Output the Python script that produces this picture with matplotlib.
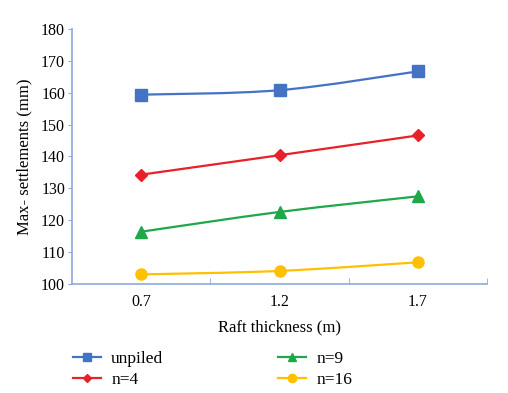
import matplotlib.pyplot as plt
import numpy as np
from matplotlib.path import Path
from matplotlib.patches import PathPatch

# data
thickness = ['0.7', '1.2', '1.7']
unpiled = [159.4, 160.8, 166.7]
n4 = [134.3, 140.4, 146.6]
n9 = [116.4, 122.6, 127.5]
n16 = [103.0, 104.1, 106.8]

plt.rcParams['font.family'] = ['Liberation Serif', 'DejaVu Serif']

fig = plt.figure(figsize=(5.08, 3.93), dpi=100)
ax = fig.add_axes([0.1417, 0.2774, 0.817, 0.6488])

x = np.arange(len(thickness))


def smooth_path(xs, ys):
    # excel-like smoothed line (catmull-rom as bezier segments)
    pts = list(zip(xs, ys))
    verts = [pts[0]]
    codes = [Path.MOVETO]
    t = 1 / 6
    for i in range(len(pts) - 1):
        p0 = pts[i - 1] if i > 0 else pts[i]
        p1 = pts[i]
        p2 = pts[i + 1]
        p3 = pts[i + 2] if i + 2 < len(pts) else pts[i + 1]
        c1 = (p1[0] + (p2[0] - p0[0]) * t, p1[1] + (p2[1] - p0[1]) * t)
        c2 = (p2[0] - (p3[0] - p1[0]) * t, p2[1] - (p3[1] - p1[1]) * t)
        verts += [c1, c2, p2]
        codes += [Path.CURVE4] * 3
    return Path(verts, codes)


series = [
    ('unpiled', unpiled, '#4472C4', 's', 8),
    ('n=4', n4, '#E8202A', 'D', 6),
    ('n=9', n9, '#1FA84A', '^', 8),
    ('n=16', n16, '#FFC000', 'o', 8),
]

for name, vals, col, mk, ms in series:
    ax.add_patch(PathPatch(smooth_path(x, vals), facecolor='none',
                           edgecolor=col, lw=1.6, zorder=2))
    ax.plot(x, vals, linestyle='none', marker=mk, markersize=ms,
            color=col, zorder=3)
    # proxy for legend
    ax.plot([], [], color=col, lw=1.6, marker=mk, markersize=ms * 0.75, label=name)

ax.set_xlim(-0.5, 2.5)
ax.set_ylim(100, 180)
ax.set_yticks(np.arange(100, 181, 10))
ax.set_xticks(x)
ax.set_xticklabels(thickness)
ax.set_xticks([0.5, 1.5, 2.5], minor=True)
ax.tick_params(axis='x', which='major', length=0, pad=7, labelsize=11.5)
ax.tick_params(axis='x', which='minor', direction='in', length=4, color='#8EA9DB')
ax.tick_params(axis='y', direction='out', length=3, color='#8EA9DB', labelsize=11.5, pad=2)

spine_col = '#8EA9DB'
for s in ['top', 'right']:
    ax.spines[s].set_visible(False)
ax.spines['left'].set_color(spine_col)
ax.spines['bottom'].set_color(spine_col)
ax.spines['left'].set_linewidth(1.2)
ax.spines['bottom'].set_linewidth(1.2)

ax.set_xlabel('Raft thickness (m)', fontsize=12, labelpad=7)
ax.set_ylabel('Max- settlements (mm)', fontsize=12, labelpad=6)

handles, labels = ax.get_legend_handles_labels()
fig.legend(handles, labels,
           loc='upper left', bbox_to_anchor=(0.130, 0.125), ncol=2, frameon=False,
           fontsize=12.5, handlelength=1.6, columnspacing=6.6, labelspacing=0.3,
           handletextpad=0.6, borderaxespad=0)

plt.savefig('out.png', dpi=100)
